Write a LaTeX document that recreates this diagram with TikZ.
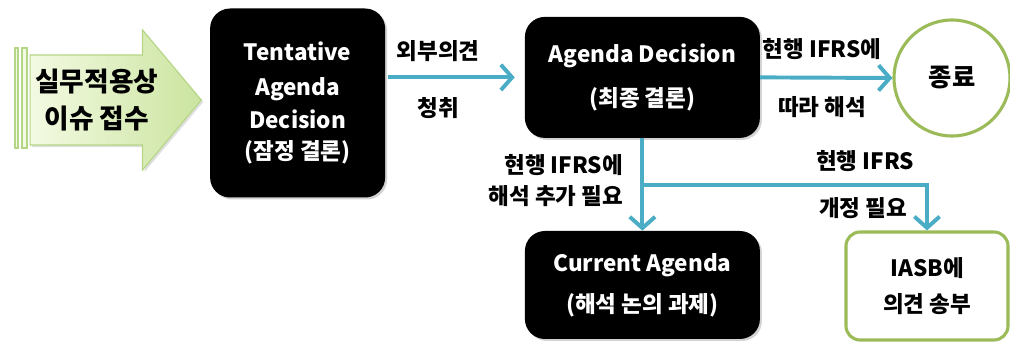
\documentclass[tikz,border=0pt]{standalone}
\usepackage{fontspec}
\setmainfont{Noto Sans CJK KR}
\usetikzlibrary{positioning}
\usetikzlibrary{shapes.arrows,arrows.meta,shadows}
\pgfdeclarelayer{background}
\pgfsetlayers{background,main}
\definecolor{flowblue}{HTML}{4BACC6}
\definecolor{endgreen}{HTML}{9BBB59}
\definecolor{issuelight}{HTML}{F3FAE2}
\definecolor{issuedark}{HTML}{CBE4A0}
\definecolor{issueedge}{HTML}{B5D685}

\begin{document}
\begin{tikzpicture}[
	font=\fontsize{16}{22}\selectfont\bfseries,
	blacknode/.style={rectangle, rounded corners=0.5cm, fill=black, text=white, align=center, inner sep=0pt,
		drop shadow={opacity=0.35, shadow xshift=0.5mm, shadow yshift=-0.5mm}},
	greennode/.style={rectangle, rounded corners=0.35cm, draw=endgreen, line width=2.2pt, fill=white, align=center, inner sep=0pt},
	issuenode/.style={single arrow, draw=issueedge, thick, left color=issuelight, right color=issuedark, align=center,
		minimum height=4.25cm, minimum width=3.5cm, single arrow head extend=0.5cm, single arrow tip angle=100,
		font=\fontsize{19}{26}\selectfont\bfseries,
		drop shadow={opacity=0.25, shadow xshift=0.5mm, shadow yshift=-0.5mm}},
	flow/.style={draw=flowblue, line width=2.8pt, -{Straight Barb[length=8pt,width=18pt]}},
	]
	\useasboundingbox (0,0) rectangle (25.25,8.575);
	%Nodes
	\node[issuenode]   (issue)     at (5.05,6.075)  [anchor=tip] {실무적용상\\이슈 접수};
	\node[blacknode, minimum width=4.375cm, minimum height=4.725cm] (tentative) at (7.44,6.0)
		{Tentative\\[3pt]Agenda\\[1pt]Decision\\(잠정 결론)};
	\node[blacknode, minimum width=5.875cm, minimum height=3.025cm] (decision)  at (16.06,6.64)
		{Agenda Decision\\[9pt](최종 결론)};
	\node[circle, draw=endgreen, line width=2.2pt, fill=white, minimum size=2.9cm,
		font=\fontsize{18}{22}\selectfont\bfseries] (end) at (23.8,6.625) {종료};
	\node[blacknode, minimum width=5.875cm, minimum height=2.7cm] (current)   at (16.06,1.45)
		{Current Agenda\\[7pt](해석 논의 과제)};
	\node[greennode, minimum width=4.05cm, minimum height=2.7cm] (iasb)      at (23.175,1.425)
		{IASB에\\[4pt]의견 송부};
	\coordinate (split) at (16.06,3.95);
	\coordinate (turn)  at (iasb.north |- split);

	%Labels
	\node (lblopinion) at (10.95,7.3)   {외부의견};
	\node (lblhear)    at (10.95,5.88)  {청취};
	\node (lblfollow)  at (20.55,7.35)  {현행 IFRS에};
	\node (lblinterp)  at (20.55,5.9)   {따라 해석};
	\node[align=right, anchor=east] (lbladd) at (15.7,4.05) {현행 IFRS에\\해석 추가 필요};
	\node (lblifrs)    at (21.63,4.55)  {현행 IFRS};
	\node (lblamend)   at (21.58,3.38)  {개정 필요};

	\begin{pgfonlayer}{background}
	\draw[issueedge, thick, fill=issuelight] (0.375,4.875) rectangle (0.45,7.375);
	\draw[issueedge, thick, fill=issuelight] (0.55,4.875) rectangle (0.675,7.375);
	\end{pgfonlayer}

	%Lines
	\draw[flow, shorten <=2pt, shorten >=7pt] (tentative.east |- decision) -- (decision.west);
	\draw[flow] (decision.east) -- (end.west);
	\draw[flow] (decision.south) -- (current.north);
	\draw[flow] (split) -- (turn) -- (iasb.north);
\end{tikzpicture}
\end{document}
